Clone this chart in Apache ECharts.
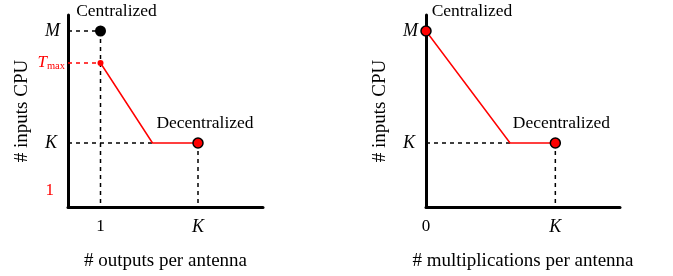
<!DOCTYPE html>
<html>
<head>
<meta charset="utf-8">
<script src="https://cdn.jsdelivr.net/npm/echarts@6/dist/echarts.min.js"></script>
<style>
  html, body { margin: 0; padding: 0; background: #fff; }
  #chart { width: 673px; height: 276px; }
</style>
</head>
<body>
<div id="chart"></div>
<script>
// abstract positions on the 0..6 scales
const X_ONE = 1
const X_KNEE = 2.6
const X_K = 4
const Y_M = 5.5
const Y_TMAX = 4.5
const Y_K = 2
const Y_ONE = 0.5

const yTicksLeft = [Y_M, Y_TMAX, Y_K, Y_ONE]
const yTickLabelsLeft = ['{m|M}', '{t|T}{s|max}', '{k|K}', '{one|1}']
const yTicksRight = [Y_M, Y_K]
const yTickLabelsRight = ['{m|M}', '{k|K}']
const xTicksLeft = [X_ONE, X_K]
const xTickLabelsLeft = ['{n|1}', '{i|K}']
const xTicksRight = [0, X_K]
const xTickLabelsRight = ['{n|0}', '{i|K}']

const redPathLeft = [[X_ONE, Y_TMAX], [X_KNEE, Y_K], [X_K, Y_K]]
const redPathRight = [[0, Y_M], [X_KNEE, Y_K], [X_K, Y_K]]
const centralizedLeft = [[X_ONE, Y_M]]
const tmaxPoint = [[X_ONE, Y_TMAX]]
const centralizedRight = [[0, Y_M]]
const decentralized = [[X_K, Y_K]]

const dashedBlackLeft = [
  [[0, Y_M], [X_ONE, Y_M]],
  [[X_ONE, Y_M], [X_ONE, 0]],
  [[0, Y_K], [X_KNEE, Y_K]],
  [[X_K, Y_K], [X_K, 0]]
]
const dashedRedLeft = [[[0, Y_TMAX], [X_ONE, Y_TMAX]]]
const dashedBlackRight = [
  [[0, Y_K], [X_KNEE, Y_K]],
  [[X_K, Y_K], [X_K, 0]]
]

const FONT = 'Liberation Serif'

function lookup(ticks, labels) {
  return v => {
    const i = ticks.findIndex(t => Math.abs(t - v) < 1e-6)
    return i < 0 ? '' : labels[i]
  }
}

const yRich = {
  m: { fontFamily: FONT, fontStyle: 'italic', fontSize: 18, color: '#000', padding: [0, 5, 0, 0] },
  k: { fontFamily: FONT, fontStyle: 'italic', fontSize: 18, color: '#000', padding: [0, 8, 0, 0] },
  t: { fontFamily: FONT, fontStyle: 'italic', fontSize: 17, color: '#f00' },
  s: { fontFamily: FONT, fontSize: 10.5, color: '#f00', verticalAlign: 'bottom', padding: [4, 0, 0, 0] },
  one: { fontFamily: FONT, fontSize: 17, color: '#f00', padding: [0, 11, 0, 0] }
}
const xRich = {
  n: { fontFamily: FONT, fontSize: 17, color: '#000' },
  i: { fontFamily: FONT, fontStyle: 'italic', fontSize: 18, color: '#000' }
}

const axisLine = { show: true, onZero: false, lineStyle: { color: '#000', width: 3 } }
const nameStyle = { fontFamily: FONT, fontSize: 19, color: '#000' }

function xAxis(grid, name, ticks, labels) {
  return {
    type: 'value', gridIndex: grid, min: 0, max: 6, interval: 0.5,
    axisLine, axisTick: { show: false }, splitLine: { show: false },
    axisLabel: { margin: 11, formatter: lookup(ticks, labels), rich: xRich },
    name, nameLocation: 'middle', nameGap: 45, nameTextStyle: nameStyle
  }
}

function yAxis(grid, ticks, labels) {
  return {
    type: 'value', gridIndex: grid, min: 0, max: 6, interval: 0.5,
    axisLine, axisTick: { show: false }, splitLine: { show: false },
    axisLabel: { margin: 3, formatter: lookup(ticks, labels), rich: yRich },
    name: '# inputs CPU', nameLocation: 'middle', nameGap: 36, nameTextStyle: nameStyle
  }
}

function dashed(list, grid, color) {
  return list.map(d => ({
    type: 'line', xAxisIndex: grid, yAxisIndex: grid, data: d, symbol: 'none', z: 1,
    lineStyle: { color, width: 1.5, type: [4, 4] }
  }))
}

function redPath(data, grid) {
  return {
    type: 'line', xAxisIndex: grid, yAxisIndex: grid, data, symbol: 'none', z: 2,
    lineStyle: { color: '#f00', width: 1.5 }
  }
}

function dot(data, grid, opts) {
  return Object.assign({
    type: 'scatter', xAxisIndex: grid, yAxisIndex: grid, data, z: 3
  }, opts)
}

function pointLabel(text, dx) {
  return {
    show: true, position: 'top', distance: 5, offset: [dx, 0],
    formatter: text, fontFamily: FONT, fontSize: 17.5, color: '#000', opacity: 1
  }
}

const ringed = { color: '#f00', borderColor: '#000', borderWidth: 1.5, opacity: 1 }

const chart = echarts.init(document.getElementById('chart'))
chart.setOption({
  animation: false,
  backgroundColor: '#fff',
  grid: [
    { left: 68, top: 15, width: 195, height: 195 },
    { left: 426, top: 15, width: 194, height: 195 }
  ],
  xAxis: [
    xAxis(0, '# outputs per antenna', xTicksLeft, xTickLabelsLeft),
    xAxis(1, '# multiplications per antenna', xTicksRight, xTickLabelsRight)
  ],
  yAxis: [
    yAxis(0, yTicksLeft, yTickLabelsLeft),
    yAxis(1, yTicksRight, yTickLabelsRight)
  ],
  series: [
    ...dashed(dashedBlackLeft, 0, '#000'),
    ...dashed(dashedRedLeft, 0, '#f00'),
    ...dashed(dashedBlackRight, 1, '#000'),
    redPath(redPathLeft, 0),
    redPath(redPathRight, 1),
    dot(centralizedLeft, 0, {
      symbolSize: 11, itemStyle: { color: '#000', opacity: 1 }, label: pointLabel('Centralized', 16)
    }),
    dot(tmaxPoint, 0, { symbolSize: 6, itemStyle: { color: '#f00', opacity: 1 } }),
    dot(decentralized, 0, {
      symbolSize: 10, itemStyle: ringed, label: pointLabel('Decentralized', 7)
    }),
    dot(centralizedRight, 1, {
      symbolSize: 10, itemStyle: ringed, label: pointLabel('Centralized', 46)
    }),
    dot(decentralized, 1, {
      symbolSize: 10, itemStyle: ringed, label: pointLabel('Decentralized', 6)
    })
  ]
})
</script>
</body>
</html>
